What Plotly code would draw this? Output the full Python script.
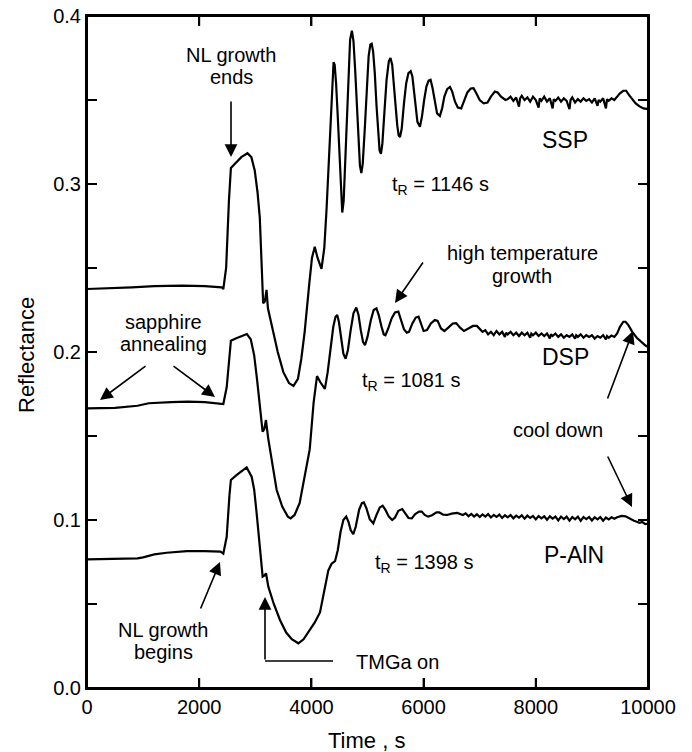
import plotly.graph_objects as go

# ---------------- data ----------------
ssp_t = [0, 300, 800, 1200, 1700, 2100, 2400, 2430, 2480, 2530, 2565, 2650, 2750, 2860, 2930, 2990,
         3040, 3080, 3110, 3140, 3170, 3200, 3225, 3300, 3400, 3500, 3600, 3680, 3760, 3820, 3880,
         3960, 4010, 4060, 4110, 4180,
         4230, 4270, 4310, 4350, 4375, 4395, 4415, 4440, 4470, 4500, 4525, 4550, 4575, 4600, 4630,
         4660, 4690, 4722, 4750, 4780, 4810, 4840, 4865, 4890, 4915, 4950, 4985, 5020, 5050, 5075,
         5100, 5130, 5160, 5190, 5215, 5240, 5265, 5300, 5340, 5380, 5410, 5440, 5470, 5500, 5530,
         5555, 5580, 5610, 5650, 5690, 5730, 5770, 5800, 5830, 5860, 5890, 5935, 5970, 6010, 6050,
         6090, 6125, 6160, 6200, 6240, 6290, 6330, 6370, 6420, 6470, 6510, 6560, 6610, 6670, 6720,
         6780, 6840, 6890, 6940, 7000, 7070, 7140, 7200, 7270, 7320, 7380, 7460,
         7500, 7550, 7600, 7650, 7700, 7720, 7750, 7800, 7850, 7900, 7950, 8000, 8050, 8070, 8100,
         8150, 8200, 8250, 8300, 8320, 8350, 8400, 8450, 8500, 8550, 8600, 8620, 8650, 8700, 8750,
         8800, 8850, 8900, 8950, 9000, 9050, 9100, 9120, 9150, 9200, 9250, 9270, 9300, 9350, 9400,
         9450, 9500, 9560, 9610, 9660, 9720, 9780, 9850, 9920, 10000]
ssp_r = [0.2375, 0.2378, 0.2385, 0.2392, 0.2395, 0.2392, 0.2385, 0.2375, 0.2500, 0.2900, 0.3095,
         0.3125, 0.3160, 0.3183, 0.3160, 0.3080, 0.2950, 0.2800, 0.2550, 0.2290, 0.2300, 0.2370,
         0.2260, 0.2150, 0.2000, 0.1880, 0.1815, 0.1798, 0.1840, 0.1960, 0.2120, 0.2400, 0.2560,
         0.2627, 0.2560, 0.2495,
         0.2620, 0.2850, 0.3150, 0.3480, 0.3650, 0.3725, 0.3710, 0.3600, 0.3400, 0.3150, 0.2930,
         0.2830, 0.2900, 0.3120, 0.3420, 0.3700, 0.3860, 0.3913, 0.3850, 0.3680, 0.3450, 0.3240,
         0.3110, 0.3065, 0.3120, 0.3320, 0.3570, 0.3760, 0.3830, 0.3835, 0.3790, 0.3660, 0.3470,
         0.3300, 0.3200, 0.3180, 0.3240, 0.3420, 0.3620, 0.3730, 0.3750, 0.3710, 0.3610, 0.3470,
         0.3350, 0.3290, 0.3280, 0.3330, 0.3480, 0.3600, 0.3660, 0.3672, 0.3640, 0.3560, 0.3450,
         0.3370, 0.3340, 0.3400, 0.3500, 0.3580, 0.3615, 0.3620, 0.3570, 0.3480, 0.3420, 0.3405,
         0.3450, 0.3520, 0.3565, 0.3578, 0.3550, 0.3490, 0.3455, 0.3450, 0.3490, 0.3545, 0.3568,
         0.3570, 0.3540, 0.3500, 0.3480, 0.3485, 0.3520, 0.3550, 0.3545, 0.3520, 0.3500,
         0.3505, 0.3520, 0.3495, 0.3515, 0.3460, 0.3510, 0.3525, 0.3500, 0.3515, 0.3490, 0.3520,
         0.3500, 0.3455, 0.3510, 0.3495, 0.3520, 0.3490, 0.3510, 0.3450, 0.3505, 0.3495, 0.3515,
         0.3490, 0.3510, 0.3495, 0.3445, 0.3500, 0.3515, 0.3485, 0.3505, 0.3490, 0.3510, 0.3495,
         0.3505, 0.3485, 0.3510, 0.3465, 0.3500, 0.3490, 0.3510, 0.3450, 0.3505, 0.3495, 0.3510,
         0.3500, 0.3520, 0.3540, 0.3555, 0.3555, 0.3530, 0.3505, 0.3480, 0.3462, 0.3450, 0.3445]

dsp_t = [0, 500, 900, 1100, 1500, 1800, 2100, 2380, 2430, 2490, 2540, 2565, 2650, 2750, 2850, 2920,
         2980, 3030, 3080, 3130, 3160, 3190, 3230, 3300, 3380, 3480, 3580, 3630, 3700, 3790, 3880,
         3970, 4040, 4100, 4160,
         4240, 4290, 4340, 4390, 4430, 4460, 4490, 4530, 4570, 4610, 4650, 4700, 4750, 4800, 4840,
         4880, 4920, 4955, 5000, 5060, 5110, 5160, 5200, 5250, 5290, 5320, 5370, 5430, 5490, 5550,
         5600, 5650, 5700, 5740, 5800, 5860, 5910, 5960, 6000, 6060, 6130, 6200, 6250, 6310, 6370,
         6440, 6520, 6580, 6650, 6720, 6800, 6880, 6950, 7020, 7050,
         7100, 7150, 7200, 7250, 7300, 7350, 7400, 7450, 7470, 7500, 7550, 7600, 7650, 7700, 7750,
         7800, 7850, 7900, 7920, 7950, 8000, 8050, 8100, 8150, 8200, 8250, 8270, 8300, 8350, 8400,
         8450, 8500, 8550, 8600, 8650, 8700, 8720, 8750, 8800, 8850, 8900, 8950, 9000, 9050, 9100,
         9150, 9200, 9250, 9270, 9300, 9350, 9400, 9450, 9500, 9560, 9600, 9650, 9720, 9800, 9880,
         9950, 10000]
dsp_r = [0.1665, 0.1668, 0.1680, 0.1695, 0.1702, 0.1705, 0.1702, 0.1695, 0.1690, 0.1790, 0.2000,
         0.2067, 0.2080, 0.2095, 0.2107, 0.2075, 0.1980, 0.1840, 0.1700, 0.1526, 0.1540, 0.1595,
         0.1486, 0.1330, 0.1180, 0.1080, 0.1020, 0.1010, 0.1030, 0.1100, 0.1250, 0.1420, 0.1700,
         0.1857, 0.1820,
         0.1780, 0.1880, 0.2020, 0.2150, 0.2210, 0.2220, 0.2180, 0.2080, 0.1990, 0.1960, 0.2010,
         0.2130, 0.2230, 0.2265, 0.2220, 0.2130, 0.2060, 0.2040, 0.2090, 0.2190, 0.2250, 0.2260,
         0.2220, 0.2150, 0.2105, 0.2100, 0.2140, 0.2200, 0.2235, 0.2240, 0.2190, 0.2135, 0.2115,
         0.2120, 0.2170, 0.2205, 0.2210, 0.2160, 0.2125, 0.2130, 0.2170, 0.2190, 0.2185, 0.2140,
         0.2125, 0.2145, 0.2170, 0.2172, 0.2145, 0.2125, 0.2140, 0.2155, 0.2155, 0.2130, 0.2120,
         0.2130, 0.2105, 0.2120, 0.2100, 0.2125, 0.2105, 0.2120, 0.2090, 0.2115, 0.2105, 0.2120,
         0.2100, 0.2115, 0.2095, 0.2115, 0.2100, 0.2115, 0.2085, 0.2110, 0.2100, 0.2115, 0.2095,
         0.2110, 0.2095, 0.2110, 0.2080, 0.2105, 0.2095, 0.2110, 0.2090, 0.2105, 0.2085, 0.2100,
         0.2090, 0.2105, 0.2080, 0.2100, 0.2090, 0.2105, 0.2085, 0.2100, 0.2090, 0.2100, 0.2080,
         0.2095, 0.2085, 0.2100, 0.2075, 0.2095, 0.2085, 0.2098, 0.2090, 0.2110, 0.2150, 0.2180,
         0.2180, 0.2160, 0.2120, 0.2085, 0.2060, 0.2040, 0.2030]

paln_t = [0, 500, 900, 1000, 1200, 1420, 1780, 2100, 2380, 2430, 2490, 2540, 2565, 2670, 2760, 2846,
          2935, 2980, 3024, 3080, 3131, 3165, 3191, 3232, 3330, 3440, 3550, 3650, 3767, 3860, 3960,
          4060, 4153, 4250, 4302, 4360,
          4421, 4470, 4520, 4570, 4620, 4660, 4700, 4747, 4790, 4850, 4900, 4935, 4980, 5040, 5104,
          5160, 5220, 5270, 5320, 5380, 5440, 5490, 5550, 5620, 5670, 5730, 5790, 5850, 5920, 5966,
          6020, 6080, 6150, 6230, 6280, 6350, 6420, 6500, 6600,
          6700, 6750, 6800, 6850, 6900, 6950, 7000, 7050, 7100, 7150, 7200, 7250, 7300, 7350, 7400,
          7450, 7500, 7550, 7600, 7650, 7700, 7750, 7800, 7850, 7900, 7950, 8000, 8050, 8100, 8150,
          8200, 8250, 8300, 8350, 8400, 8450, 8500, 8550, 8600, 8650, 8700, 8750, 8800, 8850, 8900,
          8950, 9000, 9050, 9100, 9150, 9200, 9250, 9300, 9350, 9400, 9450, 9530, 9600, 9680, 9750,
          9800, 9850, 9900, 9950, 10000]
paln_r = [0.0766, 0.0768, 0.0772, 0.0778, 0.0795, 0.0805, 0.0815, 0.0815, 0.0812, 0.0800, 0.0900,
          0.1150, 0.1238, 0.1268, 0.1290, 0.1313, 0.1258, 0.1180, 0.1040, 0.0850, 0.0663, 0.0670,
          0.0683, 0.0603, 0.0500, 0.0405, 0.0330, 0.0290, 0.0266, 0.0290, 0.0340, 0.0390, 0.0450,
          0.0600, 0.0700, 0.0740,
          0.0755, 0.0820, 0.0930, 0.1000, 0.1020, 0.0990, 0.0940, 0.0915, 0.0960, 0.1060, 0.1100,
          0.1105, 0.1070, 0.1005, 0.0980, 0.1030, 0.1075, 0.1085, 0.1060, 0.1020, 0.1000, 0.1015,
          0.1055, 0.1065, 0.1040, 0.1012, 0.1010, 0.1035, 0.1050, 0.1050, 0.1030, 0.1020, 0.1028,
          0.1045, 0.1045, 0.1032, 0.1030, 0.1038, 0.1042,
          0.1030, 0.1040, 0.1022, 0.1036, 0.1020, 0.1034, 0.1018, 0.1033, 0.1020, 0.1035, 0.1015,
          0.1030, 0.1018, 0.1032, 0.1012, 0.1028, 0.1016, 0.1030, 0.1010, 0.1026, 0.1014, 0.1028,
          0.1008, 0.1026, 0.1012, 0.1024, 0.1004, 0.1024, 0.1010, 0.1022, 0.1002, 0.1022, 0.1008,
          0.1020, 0.0998, 0.1020, 0.1006, 0.1020, 0.0996, 0.1018, 0.1004, 0.1020, 0.0995, 0.1018,
          0.1005, 0.1018, 0.0997, 0.1016, 0.1004, 0.1018, 0.0996, 0.1015, 0.1004, 0.1016, 0.1008,
          0.1016, 0.1024, 0.1022, 0.1005, 0.0995, 0.0990, 0.0983, 0.0988, 0.0975, 0.0978]

x_ticks = [0, 2000, 4000, 6000, 8000, 10000]
y_tickvals = [0.0, 0.05, 0.1, 0.15, 0.2, 0.25, 0.3, 0.35, 0.4]
y_ticktext = ["0.0", "", "0.1", "", "0.2", "", "0.3", "", "0.4"]

# ---------------- layout geometry (window pixels) ----------------
W, H = 692, 752
L, R, T, B = 87, 648, 16, 688  # plot area
X0, X1, Y0, Y1 = 0, 10000, 0.0, 0.4
TICK = 10
FONT = "Liberation Sans, Arial, Helvetica, sans-serif"


def dx(px):
    return X0 + (px - L) / (R - L) * (X1 - X0)


def dy(py):
    return Y0 + (B - py) / (B - T) * (Y1 - Y0)


def px_paper(px, py):
    return (px - L) / (R - L), (B - py) / (B - T)


fig = go.Figure()
for t, r, name in [(ssp_t, ssp_r, "SSP"), (dsp_t, dsp_r, "DSP"), (paln_t, paln_r, "P-AlN")]:
    fig.add_trace(go.Scatter(x=t, y=r, mode="lines", name=name,
                             line=dict(color="black", width=2.2), showlegend=False))

# inside tick marks on all four sides, built from the tick value lists
tlen_y = TICK / (B - T) * (Y1 - Y0)   # tick length in y units (for x ticks)
tlen_x = TICK / (R - L) * (X1 - X0)   # tick length in x units (for y ticks)
tk_x, tk_y = [], []
for v in x_ticks[1:-1]:
    tk_x += [v, v, None, v, v, None]
    tk_y += [Y0, Y0 + tlen_y, None, Y1 - tlen_y, Y1, None]
for v in y_tickvals[1:-1]:
    tk_x += [X0, X0 + tlen_x, None, X1 - tlen_x, X1, None]
    tk_y += [v, v, None, v, v, None]
fig.add_trace(go.Scatter(x=tk_x, y=tk_y, mode="lines", line=dict(color="black", width=2),
                         hoverinfo="skip", showlegend=False, cliponaxis=False))

axis_common = dict(showline=True, linecolor="black", linewidth=2, mirror="ticks",
                   ticks="inside", ticklen=TICK, tickwidth=2, tickcolor="black",
                   showgrid=False, zeroline=False, automargin=False,
                   tickfont=dict(family=FONT, size=20, color="black"))

fig.update_xaxes(range=[X0, X1], tickvals=x_ticks, tickformat="d", **axis_common)
fig.update_yaxes(range=[Y0, Y1], tickvals=y_tickvals, ticktext=y_ticktext, **axis_common)

anns = []


def ptext(px, py, s, size=20, angle=0):
    xp, yp = px_paper(px, py)
    anns.append(dict(x=xp, y=yp, xref="paper", yref="paper", text=s, showarrow=False,
                     xanchor="center", yanchor="middle", textangle=angle,
                     font=dict(family=FONT, size=size, color="black")))


def arrow(hx, hy, tx, ty):
    anns.append(dict(x=dx(hx), y=dy(hy), xref="x", yref="y", ax=tx - hx, ay=ty - hy,
                     axref="pixel", ayref="pixel", text="", showarrow=True,
                     arrowhead=2, arrowsize=1.6, arrowwidth=1.6, arrowcolor="black", standoff=0))


# axis titles
ptext(366, 740, "Time , s", 22)
ptext(26, 355, "Reflectance", 22, -90)

ptext(231, 55, "NL growth")
ptext(231, 77, "ends")
arrow(231, 157, 231, 100)

ptext(163, 322, "sapphire")
ptext(163, 344, "annealing")
arrow(100, 400, 147, 365)
arrow(215, 397, 172, 365)

ptext(163, 630, "NL growth")
ptext(163, 652, "begins")
arrow(220, 562, 200, 610)

arrow(265, 597, 265, 661)
ptext(397, 662, "TMGa on")

ptext(522, 253, "high temperature")
ptext(522, 276, "growth")
arrow(395, 303, 424, 261)

ptext(558, 430, "cool down")
arrow(633, 331, 607, 400)
arrow(632, 507, 607, 455)

ptext(565, 140, "SSP", 23)
ptext(565, 357, "DSP", 23)
ptext(574, 555, "P-AlN", 23)

ptext(440, 185, "t<sub>R</sub> = 1146 s")
ptext(411, 381, "t<sub>R</sub> = 1081 s")
ptext(424, 563, "t<sub>R</sub> = 1398 s")

shapes = [
    dict(type="line", xref="x", yref="y", x0=dx(265), y0=dy(661), x1=dx(333), y1=dy(661),
         line=dict(color="black", width=1.6)),
    # plot frame
    dict(type="rect", xref="paper", yref="paper", x0=0, y0=0, x1=1, y1=1,
         line=dict(color="black", width=2), layer="above"),
]

fig.update_layout(width=W, height=H,
                  margin=dict(l=L, r=W - R, t=T, b=H - B, autoexpand=False),
                  paper_bgcolor="white", plot_bgcolor="white", annotations=anns, shapes=shapes,
                  font=dict(family=FONT, color="black"))

# remove the default page margin so the figure fills the window exactly
fig.write_html("out.html", config={"displayModeBar": False},
               post_script="document.body.style.margin='0';")
